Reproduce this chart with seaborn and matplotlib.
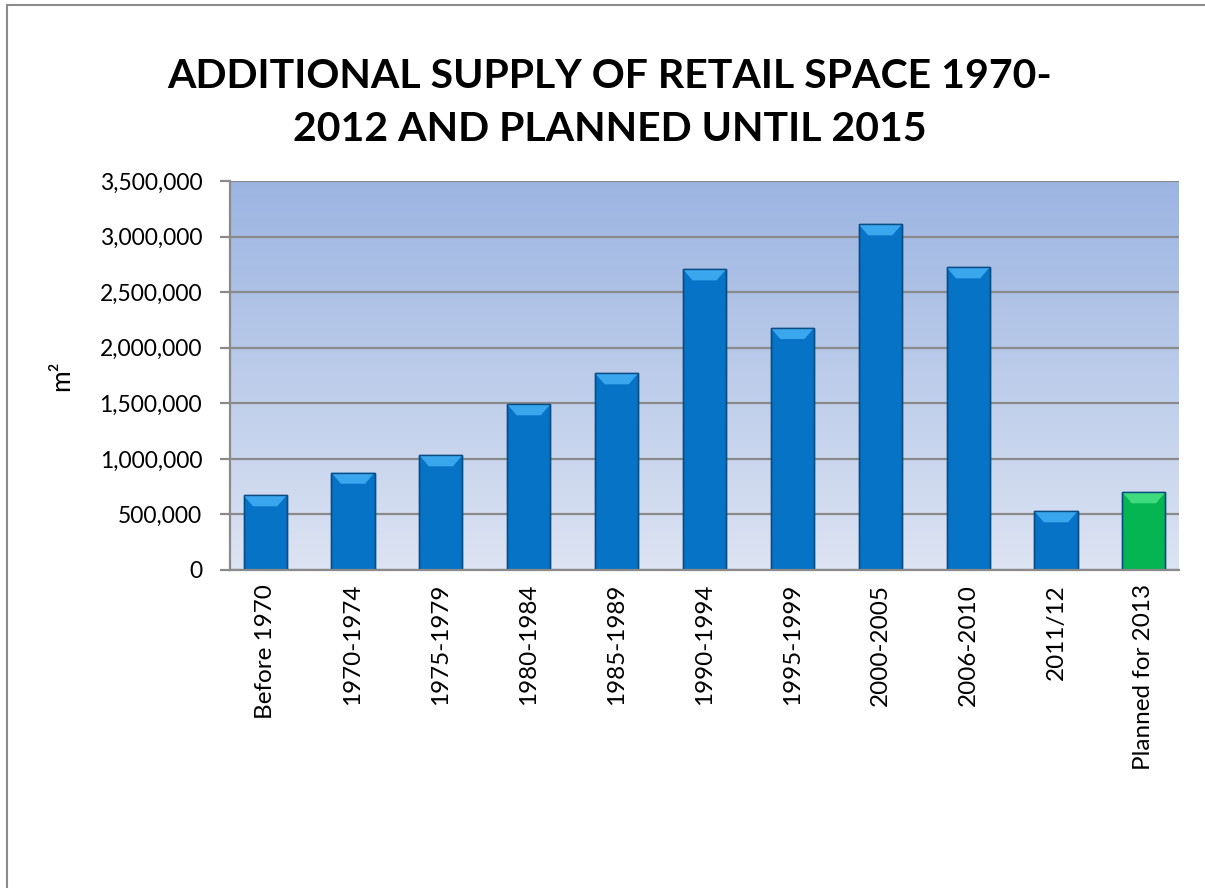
import numpy as np
import pandas as pd
import matplotlib
matplotlib.use("Agg")
import matplotlib.pyplot as plt
import seaborn as sns
from matplotlib.patches import Polygon, Rectangle
from matplotlib.lines import Line2D

categories = ["Before 1970", "1970-1974", "1975-1979", "1980-1984", "1985-1989",
              "1990-1994", "1995-1999", "2000-2005", "2006-2010", "2011/12",
              "Planned for 2013"]
values = [672000, 875000, 1032000, 1491000, 1770000, 2705000, 2177000,
          3110000, 2723000, 528000, 699000]
bar_colors = ["#0673C6"] * 10 + ["#05B552"]
cap_colors = ["#3AA6EE"] * 10 + ["#3DDB7E"]
yticks = [0, 500000, 1000000, 1500000, 2000000, 2500000, 3000000, 3500000]
title = "ADDITIONAL SUPPLY OF RETAIL SPACE 1970-\n2012 AND PLANNED UNTIL 2015"
ylabel = "m²"

sns.set_theme(style="white")
plt.rcParams["font.family"] = ["Lato", "DejaVu Sans"]

fig = plt.figure(figsize=(12.05, 8.88), dpi=100)
ax = fig.add_axes([230 / 1205, 1 - 570 / 888, (1179 - 230) / 1205, (570 - 181) / 888])

df = pd.DataFrame({"cat": categories, "val": values})
sns.barplot(data=df, x="cat", y="val", hue="cat", palette=bar_colors, legend=False,
            width=0.49, ax=ax, zorder=3, edgecolor="#0B4C85", linewidth=1.0, saturation=1)

ax.set_ylim(0, 3500000)
ax.set_xlim(-0.4, len(categories) - 0.6)

# gradient background
grad = np.linspace(0, 1, 256).reshape(-1, 1)
top = np.array([0x9B, 0xB4, 0xE1]) / 255
bot = np.array([0xDD, 0xE4, 0xF3]) / 255
img = bot + (top - bot) * grad
ax.imshow(img[:, None, :].repeat(2, axis=1), aspect="auto", origin="lower",
          extent=(-0.4, len(categories) - 0.6, 0, 3500000), zorder=0)

# bevel caps derived from bar geometry
for p, cc in list(zip(ax.patches, cap_colors)):
    x0, w, h = p.get_x(), p.get_width(), p.get_height()
    if h <= 0:
        continue
    cap_h = 3500000 * 11 / 389
    inset = w * 0.22
    poly = Polygon([[x0, h], [x0 + w, h], [x0 + w - inset, h - cap_h], [x0 + inset, h - cap_h]],
                   closed=True, facecolor=cc, edgecolor="none", zorder=4)
    ax.add_patch(poly)
    ax.add_patch(Rectangle((x0, 0), w, h, fill=False,
                           edgecolor="#0B4C85", linewidth=1.0, zorder=5))

ax.set_yticks(yticks)
ax.set_yticklabels([f"{v:,}" for v in yticks])
ax.yaxis.grid(True, color="#8A8A8A", linewidth=1.6, zorder=1)
ax.set_axisbelow(False)
for gl in ax.get_ygridlines():
    gl.set_zorder(1)
ax.xaxis.grid(False)

for s in ["top", "right"]:
    ax.spines[s].set_visible(False)
for s in ["left", "bottom"]:
    ax.spines[s].set_color("#8A8A8A")
    ax.spines[s].set_linewidth(1.6)
    ax.spines[s].set_zorder(6)

ax.tick_params(axis="y", which="both", left=True, length=7, width=1.6, color="#8A8A8A",
               labelsize=16.5, labelcolor="black", pad=13)
ax.tick_params(axis="x", bottom=False, labelsize=17.5, labelcolor="black", pad=4)
plt.setp(ax.get_xticklabels(), rotation=90, ha="center", va="top")
ax.set_xlabel("")
ax.set_ylabel(ylabel, fontsize=19, color="black", labelpad=18)

fig.text(0.506, 1 - 103 / 888, title, ha="center", va="center", fontsize=29.5,
         fontweight="bold", linespacing=1.55, color="black")

# frame remnants (top and left border)
fig.add_artist(Line2D([7 / 1205, 7 / 1205], [0, 1 - 5 / 888], transform=fig.transFigure,
                      color="#8C8C8C", linewidth=1.5))
fig.add_artist(Line2D([7 / 1205, 1], [1 - 5 / 888, 1 - 5 / 888], transform=fig.transFigure,
                      color="#8C8C8C", linewidth=1.5))

fig.savefig("out.png", dpi=100)
